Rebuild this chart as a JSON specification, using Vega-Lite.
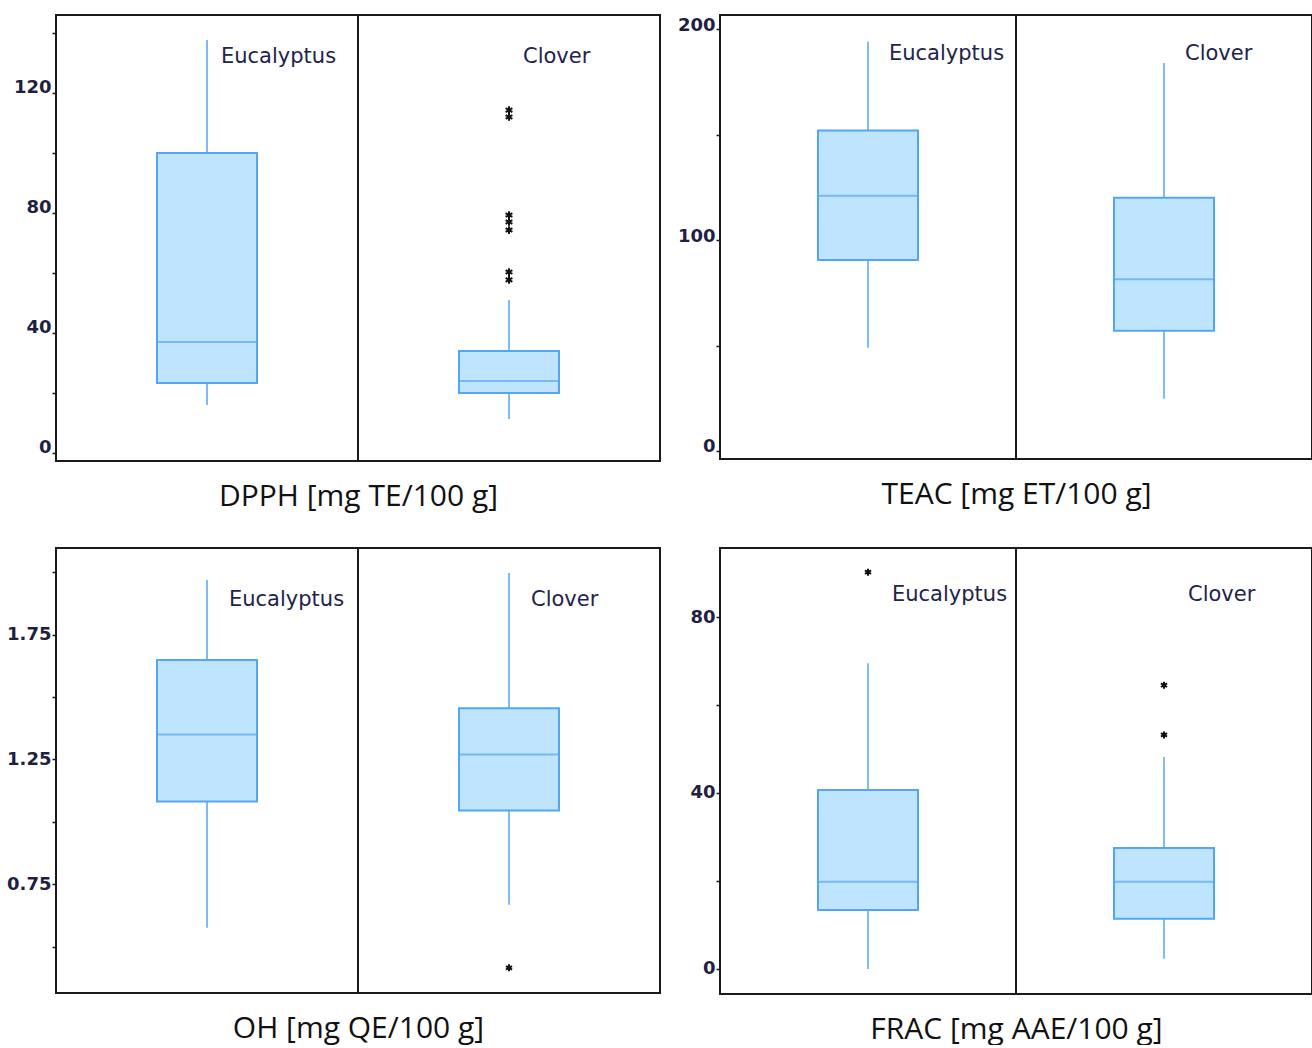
{
  "$schema": "https://vega.github.io/schema/vega-lite/v6.json",
  "padding": {"left": 5, "top": 13, "right": 0, "bottom": 0},
  "columns": 2,
  "spacing": {"column": 15, "row": 34},
  "config": {
    "view": {"stroke": "#1a1a1a", "strokeWidth": 2},
    "axisY": {"grid": false, "domain": false, "tickSize": 4, "tickColor": "#1a1a1a", "tickWidth": 1.5, "labelFont": "DejaVu Sans", "labelFontWeight": "bold", "labelFontSize": 18, "labelColor": "#1f1f3f", "labelPadding": 1, "title": null},
    "axisX": {"labels": false, "ticks": false, "domain": false, "grid": false, "titleFont": "Open Sans", "titleFontSize": 30, "titleFontWeight": "normal", "titleColor": "#111111", "titlePadding": 20},
    "text": {"font": "DejaVu Sans", "fontSize": 21, "color": "#23234a"}
  },
  "concat": [
    {
      "width": 604, "height": 446,
      "data": {"values": [
        {"group": "Eucalyptus", "low": 16, "q1": 23.3, "median": 37, "q3": 100, "high": 137.7},
        {"group": "Clover", "low": 11.3, "q1": 20, "median": 24, "q3": 34, "high": 51}
      ]},
      "encoding": {"x": {"field": "group", "type": "nominal", "scale": {"domain": ["Eucalyptus", "Clover"], "paddingInner": 0, "paddingOuter": 0}, "axis": {"title": "DPPH [mg TE/100 g]"}}},
      "layer": [
        {"mark": {"type": "rule", "color": "#55a6f2", "strokeWidth": 1.5}, "encoding": {"y": {"field": "low", "type": "quantitative", "scale": {"domain": [-2.7, 146], "nice": false, "zero": false}, "axis": {"values": [0, 20, 40, 60, 80, 100, 120, 140], "labelExpr": "datum.value % 40 == 0 ? datum.label : ''", "labelBaseline": "alphabetic"}}, "y2": {"field": "high"}}},
        {"mark": {"type": "bar", "size": 100, "fill": "#bfe4fe", "stroke": "#55a6f2", "strokeWidth": 2}, "encoding": {"y": {"field": "q1", "type": "quantitative"}, "y2": {"field": "q3"}}},
        {"mark": {"type": "tick", "size": 100, "thickness": 2, "color": "#55a6f2"}, "encoding": {"y": {"field": "median", "type": "quantitative"}}},
        {"mark": {"type": "text", "align": "left", "baseline": "middle", "dx": 14}, "encoding": {"text": {"field": "group"}, "y": {"datum": 132}}},
        {"data": {"values": [
          {"group": "Clover", "value": 114.3}, {"group": "Clover", "value": 112}, {"group": "Clover", "value": 79.3}, {"group": "Clover", "value": 77}, {"group": "Clover", "value": 74.3}, {"group": "Clover", "value": 60.3}, {"group": "Clover", "value": 57.7}
        ]}, "mark": {"type": "point", "shape": "M0,-1L0,1M-0.87,-0.5L0.87,0.5M-0.87,0.5L0.87,-0.5", "filled": false, "color": "#111111", "strokeWidth": 2, "size": 60, "opacity": 1}, "encoding": {"y": {"field": "value", "type": "quantitative"}}},
        {"mark": {"type": "rule", "color": "#1a1a1a", "strokeWidth": 2}, "encoding": {"x": {"datum": "Clover", "bandPosition": 0}}}
      ]
    },
    {
      "width": 592, "height": 444,
      "data": {"values": [
        {"group": "Eucalyptus", "low": 49, "q1": 90.5, "median": 121, "q3": 152, "high": 194},
        {"group": "Clover", "low": 24.8, "q1": 57, "median": 81.4, "q3": 120, "high": 184}
      ]},
      "encoding": {"x": {"field": "group", "type": "nominal", "scale": {"domain": ["Eucalyptus", "Clover"], "paddingInner": 0, "paddingOuter": 0}, "axis": {"title": "TEAC [mg ET/100 g]"}}},
      "layer": [
        {"mark": {"type": "rule", "color": "#55a6f2", "strokeWidth": 1.5}, "encoding": {"y": {"field": "low", "type": "quantitative", "scale": {"domain": [-3.8, 206.7], "nice": false, "zero": false}, "axis": {"values": [0, 50, 100, 150, 200], "labelExpr": "datum.value % 100 == 0 ? datum.label : ''", "labelBaseline": "middle", "labelOffset": -4}}, "y2": {"field": "high"}}},
        {"mark": {"type": "bar", "size": 100, "fill": "#bfe4fe", "stroke": "#55a6f2", "strokeWidth": 2}, "encoding": {"y": {"field": "q1", "type": "quantitative"}, "y2": {"field": "q3"}}},
        {"mark": {"type": "tick", "size": 100, "thickness": 2, "color": "#55a6f2"}, "encoding": {"y": {"field": "median", "type": "quantitative"}}},
        {"mark": {"type": "text", "align": "left", "baseline": "middle", "dx": 21}, "encoding": {"text": {"field": "group"}, "y": {"datum": 188.3}}},
        {"mark": {"type": "rule", "color": "#1a1a1a", "strokeWidth": 2}, "encoding": {"x": {"datum": "Clover", "bandPosition": 0}}}
      ]
    },
    {
      "width": 604, "height": 445,
      "data": {"values": [
        {"group": "Eucalyptus", "low": 0.575, "q1": 1.081, "median": 1.35, "q3": 1.648, "high": 1.969},
        {"group": "Clover", "low": 0.668, "q1": 1.045, "median": 1.27, "q3": 1.455, "high": 1.997}
      ]},
      "encoding": {"x": {"field": "group", "type": "nominal", "scale": {"domain": ["Eucalyptus", "Clover"], "paddingInner": 0, "paddingOuter": 0}, "axis": {"title": "OH [mg QE/100 g]"}}},
      "layer": [
        {"mark": {"type": "rule", "color": "#55a6f2", "strokeWidth": 1.5}, "encoding": {"y": {"field": "low", "type": "quantitative", "scale": {"domain": [0.314, 2.097], "nice": false, "zero": false}, "axis": {"values": [0.5, 0.75, 1, 1.25, 1.5, 1.75, 2], "format": ".2f", "labelExpr": "indexof([0.75, 1.25, 1.75], datum.value) >= 0 ? datum.label : ''", "labelBaseline": "middle"}}, "y2": {"field": "high"}}},
        {"mark": {"type": "bar", "size": 100, "fill": "#bfe4fe", "stroke": "#55a6f2", "strokeWidth": 2}, "encoding": {"y": {"field": "q1", "type": "quantitative"}, "y2": {"field": "q3"}}},
        {"mark": {"type": "tick", "size": 100, "thickness": 2, "color": "#55a6f2"}, "encoding": {"y": {"field": "median", "type": "quantitative"}}},
        {"mark": {"type": "text", "align": "left", "baseline": "middle", "dx": 22}, "encoding": {"text": {"field": "group"}, "y": {"datum": 1.89}}},
        {"data": {"values": [{"group": "Clover", "value": 0.415}]}, "mark": {"type": "point", "shape": "M0,-1L0,1M-0.87,-0.5L0.87,0.5M-0.87,0.5L0.87,-0.5", "filled": false, "color": "#111111", "strokeWidth": 2, "size": 50, "opacity": 1}, "encoding": {"y": {"field": "value", "type": "quantitative"}}},
        {"mark": {"type": "rule", "color": "#1a1a1a", "strokeWidth": 2}, "encoding": {"x": {"datum": "Clover", "bandPosition": 0}}}
      ]
    },
    {
      "width": 592, "height": 446,
      "data": {"values": [
        {"group": "Eucalyptus", "low": 0, "q1": 13.4, "median": 19.8, "q3": 40.7, "high": 69.5},
        {"group": "Clover", "low": 2.3, "q1": 11.4, "median": 19.8, "q3": 27.5, "high": 48.2}
      ]},
      "encoding": {"x": {"field": "group", "type": "nominal", "scale": {"domain": ["Eucalyptus", "Clover"], "paddingInner": 0, "paddingOuter": 0}, "axis": {"title": "FRAC [mg AAE/100 g]"}}},
      "layer": [
        {"mark": {"type": "rule", "color": "#55a6f2", "strokeWidth": 1.5}, "encoding": {"y": {"field": "low", "type": "quantitative", "scale": {"domain": [-5.7, 95.7], "nice": false, "zero": false}, "axis": {"values": [0, 20, 40, 60, 80], "labelExpr": "datum.value % 40 == 0 ? datum.label : ''", "labelBaseline": "middle"}}, "y2": {"field": "high"}}},
        {"mark": {"type": "bar", "size": 100, "fill": "#bfe4fe", "stroke": "#55a6f2", "strokeWidth": 2}, "encoding": {"y": {"field": "q1", "type": "quantitative"}, "y2": {"field": "q3"}}},
        {"mark": {"type": "tick", "size": 100, "thickness": 2, "color": "#55a6f2"}, "encoding": {"y": {"field": "median", "type": "quantitative"}}},
        {"mark": {"type": "text", "align": "left", "baseline": "middle", "dx": 24}, "encoding": {"text": {"field": "group"}, "y": {"datum": 85}}},
        {"data": {"values": [{"group": "Eucalyptus", "value": 90.2}, {"group": "Clover", "value": 64.5}, {"group": "Clover", "value": 53.2}]}, "mark": {"type": "point", "shape": "M0,-1L0,1M-0.87,-0.5L0.87,0.5M-0.87,0.5L0.87,-0.5", "filled": false, "color": "#111111", "strokeWidth": 2, "size": 50, "opacity": 1}, "encoding": {"y": {"field": "value", "type": "quantitative"}}},
        {"mark": {"type": "rule", "color": "#1a1a1a", "strokeWidth": 2}, "encoding": {"x": {"datum": "Clover", "bandPosition": 0}}}
      ]
    }
  ]
}
